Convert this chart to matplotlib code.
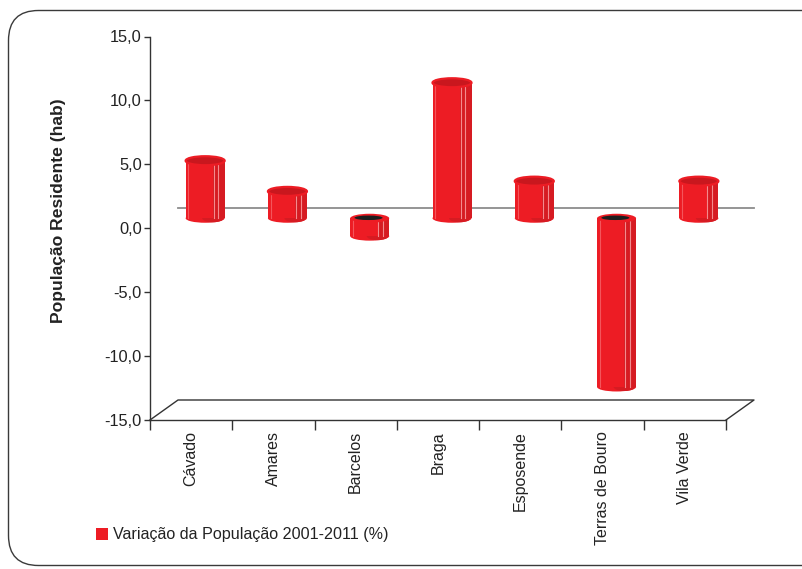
import matplotlib
matplotlib.use('Agg')
import matplotlib.pyplot as plt
from matplotlib.patches import Ellipse, Patch, FancyBboxPatch
from matplotlib.transforms import IdentityTransform

# Variação da população residente por município, 2001-2011 (%)
municipios = ['Cávado', 'Amares', 'Barcelos', 'Braga', 'Esposende',
              'Terras de Bouro', 'Vila Verde']
variacao = [4.5, 2.1, -1.4, 10.6, 2.9, -13.2, 2.9]
y_ticks = [-15, -10, -5, 0, 5, 10, 15]
serie = 'Variação da População 2001-2011 (%)'
eixo_y = 'População Residente (hab)'

plt.rcParams['font.family'] = ['Liberation Sans', 'DejaVu Sans']
TXT = '#222222'

W, H = 802, 569
fig = plt.figure(figsize=(W / 100, H / 100), dpi=100)
ax = fig.add_axes([150 / W, 149 / H, 576 / W, 383.5 / H])
ax.set_xlim(0, len(municipios))
ax.set_ylim(-15, 15)

# pixel -> data unit conversions for the oblique depth effect
ux = len(municipios) / 576
uy = 30 / 383.5
DX, DY = 28 * ux, 20 * uy

# back "zero" line and floor
ax.plot([DX, len(municipios) + DX], [DY, DY], color='#8c8c8c', lw=1.3,
        clip_on=False, zorder=1)
ax.plot([0, DX, len(municipios) + DX, len(municipios)],
        [-15, -15 + DY, -15 + DY, -15], color='#333333', lw=1,
        clip_on=False, zorder=1)

RED = '#ed1c24'
SIDE = '#d61b22'
TOPC = '#c9171e'
LIGHT = '#f48a8e'

w = 39 * ux
eh = 9 * uy
for i, v in enumerate(variacao):
    xc = i + 0.5 + DX / 2
    base = DY / 2
    ymin, ymax = min(base, base + v), max(base, base + v)
    # rounded bottom
    ax.add_patch(Ellipse((xc, ymin), w, eh, facecolor=RED, edgecolor='none',
                         zorder=2.9, clip_on=False))
    ax.add_patch(Ellipse((xc + w * 0.2, ymin), w * 0.55, eh * 0.9,
                         facecolor=SIDE, edgecolor='none', zorder=2.95,
                         clip_on=False))
    # body
    ax.bar(xc, v, bottom=base, width=w, color=RED, linewidth=0, zorder=3)
    ax.bar(xc + w * 0.35, v, bottom=base, width=w * 0.3, color=SIDE,
           linewidth=0, zorder=3.1)
    for f, c in [(0.72, LIGHT), (0.84, LIGHT), (0.07, '#f4555b')]:
        xl = xc - w / 2 + f * w
        ax.plot([xl, xl], [ymin, ymax], color=c, lw=0.8, zorder=3.2)
    # top face
    if v >= 0:
        ax.add_patch(Ellipse((xc, ymax), w, eh, facecolor=TOPC,
                             edgecolor=RED, lw=1.6, zorder=4, clip_on=False))
    else:
        ax.add_patch(Ellipse((xc, ymax), w, eh, facecolor=RED,
                             edgecolor='none', zorder=4, clip_on=False))
        ax.add_patch(Ellipse((xc - w * 0.03, ymax + eh * 0.05), w * 0.72,
                             eh * 0.5, facecolor='#1e1e1e', edgecolor='none',
                             zorder=4.1, clip_on=False))

# axes styling
for s in ['top', 'right']:
    ax.spines[s].set_visible(False)
for s in ['left', 'bottom']:
    ax.spines[s].set_color('#333333')
    ax.spines[s].set_linewidth(1)

ax.set_yticks(y_ticks)
ax.set_yticklabels([f'{t:.1f}'.replace('.', ',') for t in y_ticks])
ax.tick_params(axis='y', direction='out', length=4, width=1,
               color='#333333', labelsize=11.8, labelcolor=TXT, pad=2)

ax.set_xticks(range(len(municipios) + 1))
ax.set_xticklabels([])
ax.set_xticks([i + 0.5 for i in range(len(municipios))], minor=True)
ax.set_xticklabels(municipios, minor=True, rotation=90, fontsize=11.5,
                   color=TXT, va='top', ha='center')
ax.tick_params(axis='x', which='major', direction='out', length=7,
               width=1, color='#333333')
ax.tick_params(axis='x', which='minor', length=0, pad=8)
ax.patch.set_visible(False)

fig.text(58 / W, 1 - 211 / H, eixo_y, rotation=90, ha='center',
         va='center', fontsize=12.6, fontweight='bold', color=TXT)

fig.legend(handles=[Patch(facecolor=RED, edgecolor='none', label=serie)],
           loc='center left', bbox_to_anchor=(96 / W, 1 - 535 / H),
           frameon=False, handlelength=0.75, handleheight=0.75,
           handletextpad=0.3, fontsize=11.6, borderaxespad=0, borderpad=0,
           labelcolor=TXT)

# rounded outer frame
fig.patches.append(FancyBboxPatch((8.5, 3.5), 840, 555,
                                  boxstyle='round,pad=0,rounding_size=30',
                                  facecolor='none', edgecolor='#3a3a3a',
                                  lw=1, transform=IdentityTransform()))

fig.savefig('out.png', dpi=100)
